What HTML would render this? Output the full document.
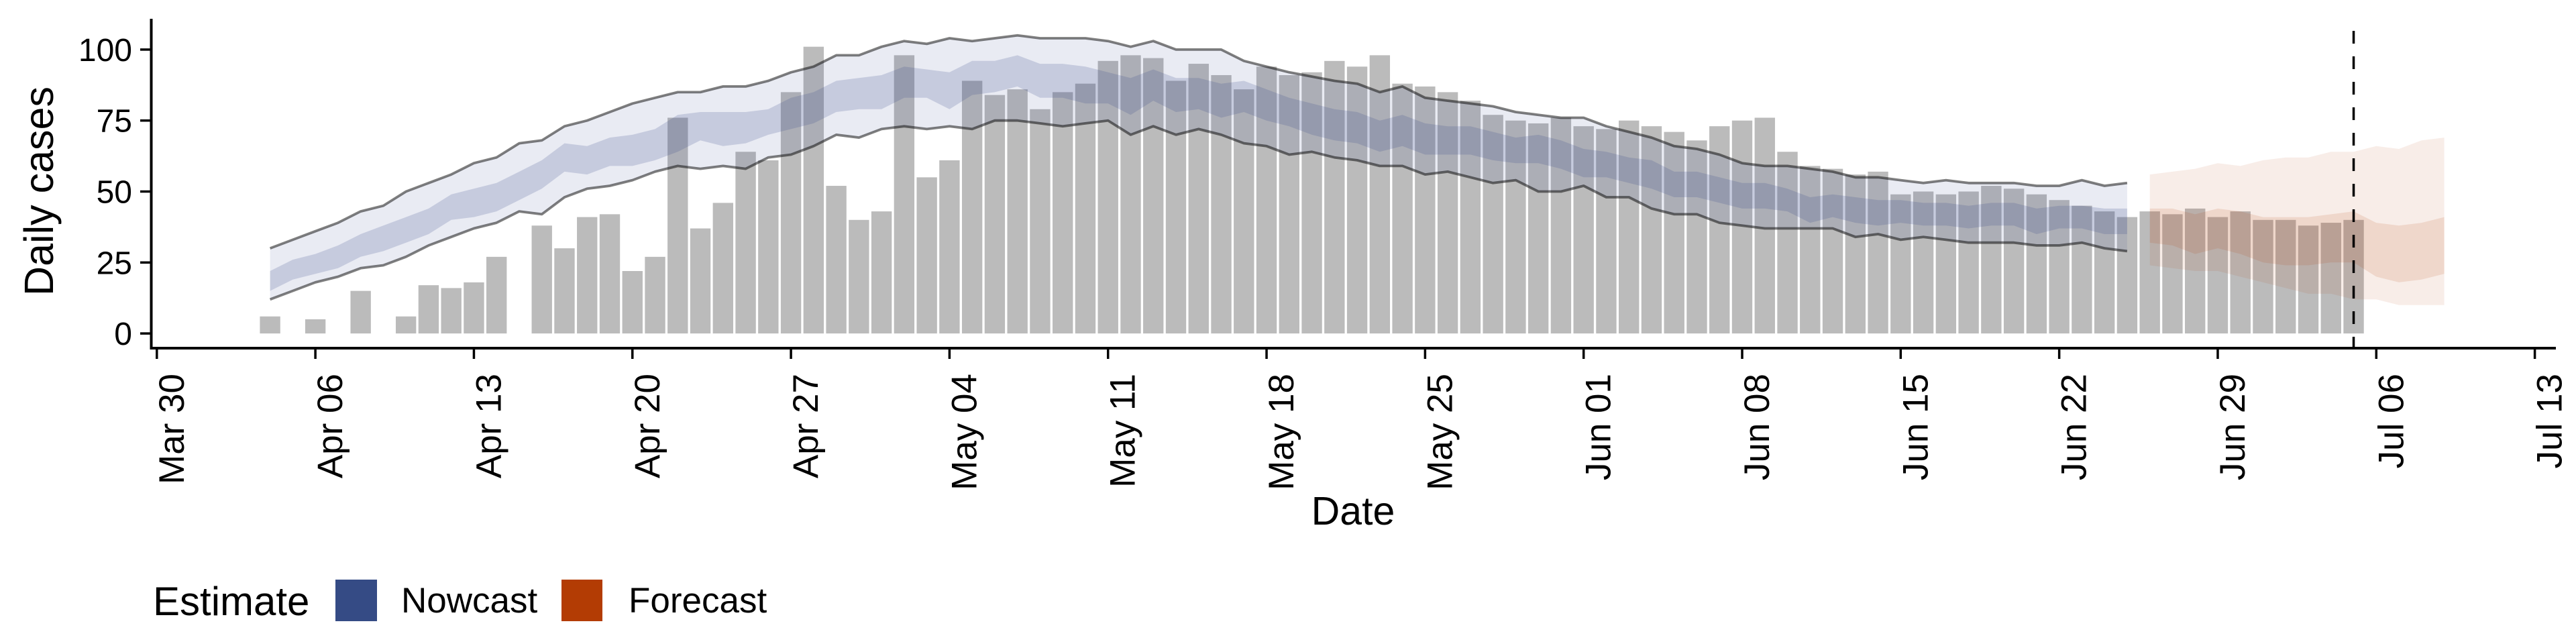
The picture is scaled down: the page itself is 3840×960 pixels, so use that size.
<!DOCTYPE html>
<html><head><meta charset="utf-8"><style>
html,body{margin:0;padding:0;background:#fff;}
svg{display:block;font-family:"Liberation Sans",Arial,sans-serif;}
</style></head><body>
<svg id="chart" width="3840" height="960" viewBox="0 0 3840 960" xmlns="http://www.w3.org/2000/svg">
<rect width="3840" height="960" fill="#fff"/>
<g id="bars"></g>
<g id="ribbons"></g>
<g id="lines"></g>
<g id="axes"></g>
<text x="79" y="285" font-size="61" text-anchor="middle" transform="rotate(-90 79 285)">Daily cases</text>
<text x="2017" y="782" font-size="59" text-anchor="middle">Date</text>
<g>
<text x="228" y="917" font-size="60">Estimate</text>
<rect x="500" y="864" width="62" height="62" fill="#354B85"/>
<text x="598" y="913" font-size="53">Nowcast</text>
<rect x="837" y="864" width="61" height="62" fill="#B33C04"/>
<text x="937" y="913" font-size="53">Forecast</text>
</g>
</svg>
<script>
// ---- data ----
const caseStartDay = 5; // days after Mar 30 (Apr 04)
const caseCounts = [6,0,5,0,15,0,6,17,16,18,
27,0,38,30,41,42,22,27,76,37,
46,64,61,85,101,52,40,43,98,55,
61,89,84,86,79,85,88,96,98,97,
89,95,91,86,94,91,92,96,94,98,
88,87,85,82,77,75,74,76,73,72,
75,73,71,68,73,75,76,64,59,58,
56,57,49,50,49,50,52,51,49,47,
45,43,41,43,42,44,41,43,40,40,
38,39,40];
const nowcastStartDay = 5;
const nowcastUpper90 = [30,33,36,39,43,45,50,53,56,60,
62,67,68,73,75,78,81,83,85,85,
87,87,89,92,94,98,98,101,103,102,
104,103,104,105,104,104,104,103,101,103,
100,100,100,96,94,92,90.5,89,88,85,
87,83,82,81,80,78,77,76,76,73,
71,69,66,65,63,60,59,59,58,57,
55,55,54,53,54,53,53,53,52,52,
54,52,53];
const nowcastLower90 = [12,15,18,20,23,24,27,31,34,37,
39,43,42,48,51,52,54,57,59,58,
59,58,62,63,66,70,69,72,73,72,
73,72,75,75,74,73,74,75,70,73,
70,72,70,67,66,63,64,62,61,59,
59,56,57,55,53,54,50,50,52,48,
48,44,42,42,39,38,37,37,37,37,
34,35,33,34,33,32,32,32,31,31,
32,30,29];
const nowcastUpper50 = [22,26,28,31,35,38,41,44,49,51,
53,57,61,67,66,69,70,72,77,78,
78,78,79,83,85,89,90,91,94,93,
92,96,96,98,95,95,94,92,90,93,
90,90,88,89,86,83,81,79,78,75,
77,74,73,73,71,69,70,68,65,64,
62,61,57,57,55,53,53,51,48,49,
48,47,47,46,46,45,46,46,44,45,
45,44,44];
const nowcastLower50 = [15,19,21,23,27,29,32,35,40,41,
43,47,51,57,56,59,59,61,64,68,
66,67,70,72,74,78,79,79,83,83,
79,84,85,87,83,83,81,81,77,82,
78,79,76,78,75,73,70,68,67,64,
66,63,63,63,61,60,60,58,55,55,
53,51,48,48,46,44,44,43,39,41,
39,38,39,38,38,37,38,38,35,37,
37,35,35];
const forecastStartDay = 88;
const forecastUpper90 = [56,57,58,60,59,61,62,62,64,64,66,65,68,69];
const forecastLower90 = [24,23,22,22,20,18,16,14,14,12,12,10,10,10];
const forecastUpper50 = [44,44,42,44,43,41,41,41,42,43,39,38,39,41];
const forecastLower50 = [32,31,28,30,28,25,24,24,25,25,20,18,19,21];
const xTickDays = [0,7,14,21,28,35,42,49,56,63,70,77,84,91,98,105];
const xTickLabels = ["Mar 30","Apr 06","Apr 13","Apr 20","Apr 27","May 04","May 11","May 18","May 25","Jun 01","Jun 08","Jun 15","Jun 22","Jun 29","Jul 06","Jul 13"];
const yTickValues = [0,25,50,75,100];
const dataDateDay = 97;

// ---- scales ----
const NS = "http://www.w3.org/2000/svg";
function xs(d){ return 233.8 + 33.76*d; }
function ys(v){ return 497.1 - 4.232*v; }
function mk(tag, attrs, parent){
  const e = document.createElementNS(NS, tag);
  for (const k in attrs) e.setAttribute(k, attrs[k]);
  parent.appendChild(e); return e;
}
const gBars = document.getElementById('bars');
const gRib = document.getElementById('ribbons');
const gLines = document.getElementById('lines');
const gAxes = document.getElementById('axes');

// bars
caseCounts.forEach((v,i)=>{
  if (v<=0) return;
  const d = caseStartDay + i;
  const w = 33.76*0.9;
  const r = mk('rect',{x:xs(d)-w/2, y:ys(v), width:w, height:ys(0)-ys(v), fill:'#bbbbbb'}, gBars);
  
  
});

function ribbon(start, up, lo, fill, op, name){
  let p = '';
  up.forEach((v,i)=>{ p += (i?'L':'M') + xs(start+i).toFixed(1) + ',' + ys(v).toFixed(1); });
  for (let i=lo.length-1;i>=0;i--) p += 'L' + xs(start+i).toFixed(1) + ',' + ys(lo[i]).toFixed(1);
  p += 'Z';
  const e = mk('path',{d:p, fill:fill, 'fill-opacity':op}, gRib);
  
  
}
ribbon(nowcastStartDay, nowcastUpper90, nowcastLower90, '#3B4A8E', 0.11, 'nowcast-ribbon-90');
ribbon(nowcastStartDay, nowcastUpper50, nowcastLower50, '#3B4A8E', 0.2, 'nowcast-ribbon-50');
ribbon(forecastStartDay, forecastUpper90, forecastLower90, '#B43C00', 0.09, 'forecast-ribbon-90');
ribbon(forecastStartDay, forecastUpper50, forecastLower50, '#B43C00', 0.12, 'forecast-ribbon-50');

function line(start, vals, name){
  const pts = vals.map((v,i)=> xs(start+i).toFixed(1)+','+ys(v).toFixed(1)).join(' ');
  const e = mk('polyline',{points:pts, fill:'none', stroke:'#000', 'stroke-opacity':0.5, 'stroke-width':3.8, 'stroke-linejoin':'round'}, gLines);
  
  
}
line(nowcastStartDay, nowcastUpper90, 'nowcast-upper-line');
line(nowcastStartDay, nowcastLower90, 'nowcast-lower-line');

// dashed data-date line
const dl = mk('line',{x1:xs(dataDateDay), x2:xs(dataDateDay), y1:46, y2:519, stroke:'#000', 'stroke-width':3.5, 'stroke-dasharray':'19,19'}, gAxes);



// axes
const ya = mk('line',{x1:225.5, x2:225.5, y1:28, y2:521, stroke:'#000', 'stroke-width':4}, gAxes);


const xa = mk('line',{x1:223.5, x2:3810, y1:519, y2:519, stroke:'#000', 'stroke-width':4}, gAxes);



yTickValues.forEach(v=>{
  const t = mk('line',{x1:209, x2:225, y1:ys(v), y2:ys(v), stroke:'#000', 'stroke-width':3.5}, gAxes);
  
  
  const l = mk('text',{x:197, y:ys(v)+17, 'font-size':48, 'text-anchor':'end'}, gAxes);
  l.textContent = String(v);
  
  
});
xTickDays.forEach((d,i)=>{
  const x = xs(d);
  const t = mk('line',{x1:x, x2:x, y1:519, y2:535, stroke:'#000', 'stroke-width':3.5}, gAxes);
  
  
  const lx = x + 40, ly = 557;
  const l = mk('text',{x:lx, y:ly, 'font-size':53, 'text-anchor':'end', transform:'rotate(-90 '+lx+' '+ly+')'}, gAxes);
  l.textContent = xTickLabels[i];
  
  
});
</script>
</body></html>
